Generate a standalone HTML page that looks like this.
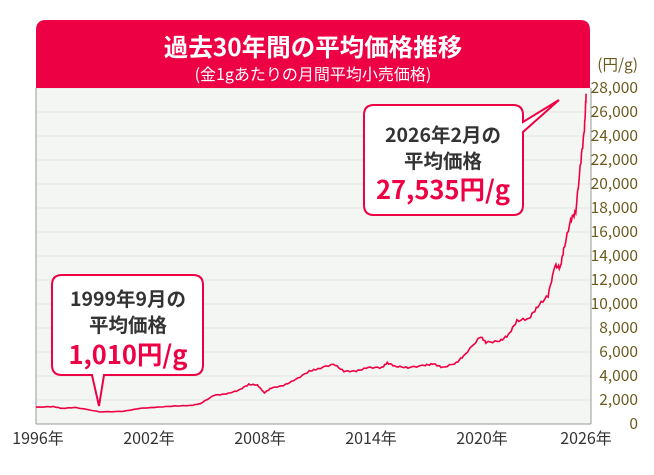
<!DOCTYPE html>
<html><head><meta charset="utf-8"><style>
body{margin:0;background:#fff;width:654px;height:470px;overflow:hidden;font-family:"Noto Sans CJK JP","Liberation Sans",sans-serif}
</style></head><body>
<svg id="s" width="654" height="470" xmlns="http://www.w3.org/2000/svg" style="font-family:'Noto Sans CJK JP','Liberation Sans',sans-serif">
<rect x="36" y="88" width="555" height="336" fill="#f4f6f3"/>
<g id="grid" stroke="#e4e6e3" stroke-width="1"></g>
<path d="M36 30 Q36 20 46 20 L580 20 Q590 20 590 30 L590 88 L36 88 Z" fill="#ee0044"/>
<text x="313" y="56" text-anchor="middle" fill="#fff" font-size="24.5" font-weight="bold">過去30年間の平均価格推移</text>
<text x="313" y="80" text-anchor="middle" fill="#fff" font-size="16">(金1gあたりの月間平均小売価格)</text>
<line x1="36" y1="88" x2="36" y2="424" stroke="#999"/>
<line x1="591" y1="88" x2="591" y2="424" stroke="#999"/>
<line x1="36" y1="424" x2="591" y2="424" stroke="#999"/>
<g id="yl" fill="#6b5a1e" font-size="15.5" text-anchor="end"></g>
<text x="638" y="70" text-anchor="end" fill="#6b5a1e" font-size="15.5">(円/g)</text>
<g fill="#333" font-size="16" text-anchor="middle">
<text x="38" y="444">1996年</text><text x="149" y="444">2002年</text><text x="260" y="444">2008年</text>
<text x="371" y="444">2014年</text><text x="482" y="444">2020年</text><text x="586" y="444">2026年</text>
</g>
<polyline id="pl" fill="none" stroke="#ee0044" stroke-width="1.6"/>
<path d="M62 275 L193 275 Q203 275 203 285 L203 365 Q203 375 193 375 L104 375 L99 406 L92 375 L62 375 Q52 375 52 365 L52 285 Q52 275 62 275 Z" fill="#fff" stroke="#ee0044" stroke-width="2"/>
<text x="128" y="306" text-anchor="middle" fill="#333" font-size="19.5" font-weight="bold">1999年9月の</text>
<text x="128" y="332" text-anchor="middle" fill="#333" font-size="19.5" font-weight="bold">平均価格</text>
<text x="128" y="364" text-anchor="middle" fill="#ee0044" font-size="25.5" font-weight="bold">1,010円/g</text>
<path d="M374 105 L513 105 Q523 105 523 115 L523 122 L559 100 L523 132 L523 205 Q523 215 513 215 L374 215 Q364 215 364 205 L364 115 Q364 105 374 105 Z" fill="#fff" stroke="#ee0044" stroke-width="2"/>
<text x="443" y="142" text-anchor="middle" fill="#333" font-size="19.5" font-weight="bold">2026年2月の</text>
<text x="443" y="168" text-anchor="middle" fill="#333" font-size="19.5" font-weight="bold">平均価格</text>
<text x="443" y="199" text-anchor="middle" fill="#ee0044" font-size="25.5" font-weight="bold">27,535円/g</text>
</svg>
<script>
var g=document.getElementById('grid'),yl=document.getElementById('yl'),ns='http://www.w3.org/2000/svg';
for(var v=0;v<=28000;v+=2000){var y=424-v*0.012;
 if(v>0){var l=document.createElementNS(ns,'line');l.setAttribute('x1',36);l.setAttribute('x2',591);l.setAttribute('y1',y);l.setAttribute('y2',y);g.appendChild(l);}
 var t=document.createElementNS(ns,'text');t.setAttribute('x',638);t.setAttribute('y',y+5);t.textContent=v==0?'0':v.toLocaleString('en-US');yl.appendChild(t);}
var k=[[1996,1400],[1997,1450],[1997.5,1300],[1998.3,1380],[1999.7,1010],[2001,1050],[2002,1300],[2003,1400],[2004,1500],[2005,1550],[2005.5,1700],[2006.3,2400],[2007,2500],[2007.7,2800],[2008.3,3300],[2008.8,3250],[2009.2,2600],[2009.6,3000],[2010.3,3200],[2011,3700],[2011.8,4400],[2012.3,4600],[2013.2,5000],[2013.8,4400],[2014.5,4400],[2015.2,4700],[2016,4700],[2016.3,5100],[2016.8,4800],[2017.5,4700],[2018.5,4900],[2019,5000],[2019.5,4700],[2020.3,5100],[2020.8,5800],[2021.7,7300],[2022,6800],[2022.8,6900],[2023.3,7400],[2023.8,8600],[2024.5,8800],[2025,9800],[2025.6,10700],[2026,13200],[2026.3,13000],[2026.5,14500],[2026.9,17000],[2027.2,17700],[2027.5,22000],[2027.7,24500],[2027.8,27535]];
var S=17.3,pts=[];for(var i=0;i<k.length-1;i++){var a=k[i],b=k[i+1];for(var j=0;j<6;j++){var f=j/6,yr=a[0]+(b[0]-a[0])*f,val=a[1]+(b[1]-a[1])*f;val+=Math.sin(i*7.3+j*2.1)*val*0.012;
 var x=36+(yr-1996)*S;pts.push(x.toFixed(1)+','+(424-val*0.012).toFixed(1));}}
var e=k[k.length-1];pts.push((36+(e[0]-1996)*S).toFixed(1)+','+(424-e[1]*0.012).toFixed(1));
document.getElementById('pl').setAttribute('points',pts.join(' '));
</script>
</body></html>
